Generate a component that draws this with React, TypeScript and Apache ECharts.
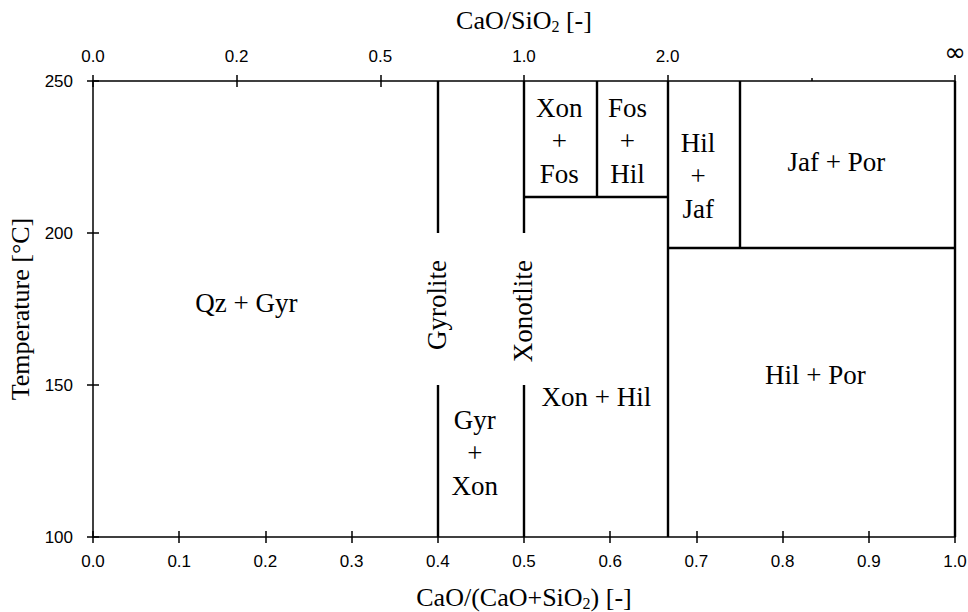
import { useEffect, useRef } from "react";
import * as echarts from "echarts";

// Top axis: CaO/SiO2 molar ratio, placed at its CaO/(CaO+SiO2) fraction
const ratioTicks = [0, 0.2, 0.5, 1, 2, 5, Infinity];
const ratioLabels = ["0.0", "0.2", "0.5", "1.0", "2.0", "", "∞"];
const toFraction = (r: number) => (r === Infinity ? 1 : r / (1 + r));

// Bottom axis ticks (CaO/(CaO+SiO2)) and temperature range
const fractionMin = 0;
const fractionMax = 1;
const fractionStep = 0.1;
const tempMin = 100;
const tempMax = 250;
const tempStep = 50;

// Phase boundaries: vertical segments
const vBoundX = [0.4, 0.4, 0.5, 0.5, 0.584, 0.667, 0.75, 1.0];
const vBoundTop = [250, 150, 250, 150, 250, 250, 250, 250];
const vBoundBottom = [200, 100, 200, 100, 212, 100, 195, 100];

// Phase boundaries: horizontal segments
const hBoundY = [212, 195];
const hBoundFrom = [0.5, 0.667];
const hBoundTo = [0.667, 1.0];

// Phase field labels
const phaseNames = [
  "Qz + Gyr",
  "Gyrolite",
  "Xonotlite",
  "Gyr\n+\nXon",
  "Xon + Hil",
  "Xon\n+\nFos",
  "Fos\n+\nHil",
  "Hil\n+\nJaf",
  "Jaf + Por",
  "Hil + Por",
];
const phaseX = [0.178, 0.399, 0.499, 0.443, 0.584, 0.541, 0.62, 0.702, 0.8625, 0.838];
const phaseY = [177, 176.3, 174.3, 127.5, 146.2, 230.4, 230.4, 218.9, 223.4, 153.3];
const phaseRotate = [0, 90, 90, 0, 0, 0, 0, 0, 0, 0];

const SERIF = '"Liberation Serif", "Times New Roman", "DejaVu Serif", serif';
const SANS = '"Liberation Sans", Arial, Helvetica, sans-serif';
const INK = "#000";

const topLabelValues = ratioTicks.filter((_, i) => ratioLabels[i] !== "").map(toFraction);
const topMinorValues = ratioTicks.filter((_, i) => ratioLabels[i] === "").map(toFraction);

const subRich = {
  sub: {
    fontFamily: SERIF,
    fontSize: 16,
    lineHeight: 8,
    verticalAlign: "bottom",
    color: INK,
  },
};

export default function App() {
  const ref = useRef<HTMLDivElement>(null);

  useEffect(() => {
    if (!ref.current) return;
    const chart = echarts.init(ref.current, null, { renderer: "svg" });

    const lineSegments = [
      ...vBoundX.map((x, i) => ({
        coords: [
          [x, vBoundTop[i]],
          [x, vBoundBottom[i]],
        ],
      })),
      ...hBoundY.map((y, i) => ({
        coords: [
          [hBoundFrom[i], y],
          [hBoundTo[i], y],
        ],
      })),
    ];

    const axisLine = { show: true, lineStyle: { color: INK, width: 1.5 } };
    const tickStyle = { color: INK, width: 1.5 };

    const topFormatter = (v: number) => {
      const idx = ratioTicks.findIndex((r) => Math.abs(toFraction(r) - v) < 1e-6);
      const label = idx >= 0 ? ratioLabels[idx] : "";
      return label === "∞" ? "{inf|∞}" : label;
    };

    chart.setOption({
      animation: false,
      backgroundColor: "#fff",
      grid: {
        left: 93,
        right: 13,
        top: 81,
        bottom: 75,
        containLabel: false,
        outerBoundsMode: "none",
      },
      xAxis: [
        {
          type: "value",
          position: "bottom",
          min: fractionMin,
          max: fractionMax,
          interval: fractionStep,
          axisLine,
          axisTick: { show: true, inside: false, length: 6, lineStyle: tickStyle },
          axisLabel: {
            margin: 16,
            fontFamily: SANS,
            fontSize: 17,
            color: INK,
            formatter: (v: number) => v.toFixed(1),
          },
          splitLine: { show: false },
          name: "CaO/(CaO+SiO{sub|2}) [-]",
          nameLocation: "middle",
          nameGap: 46,
          nameTextStyle: {
            fontFamily: SERIF,
            fontSize: 26,
            lineHeight: 28,
            color: INK,
            rich: subRich,
          },
        },
        {
          type: "value",
          position: "bottom",
          min: fractionMin,
          max: fractionMax,
          interval: fractionStep,
          axisLine: { show: false },
          axisTick: { show: true, inside: true, length: 6, lineStyle: tickStyle },
          axisLabel: { show: false },
          splitLine: { show: false },
        },
        {
          type: "value",
          position: "top",
          min: fractionMin,
          max: fractionMax,
          axisLine,
          axisTick: {
            show: true,
            inside: false,
            length: 6,
            lineStyle: tickStyle,
            customValues: topLabelValues,
          },
          axisLabel: {
            margin: 16,
            fontFamily: SANS,
            fontSize: 17,
            color: INK,
            customValues: topLabelValues,
            formatter: topFormatter,
            rich: {
              inf: { fontFamily: '"DejaVu Sans", sans-serif', fontSize: 26, color: INK },
            },
          },
          splitLine: { show: false },
          name: "CaO/SiO{sub|2} [-]",
          nameLocation: "middle",
          nameGap: 38,
          nameTextStyle: {
            fontFamily: SERIF,
            fontSize: 26,
            lineHeight: 28,
            color: INK,
            rich: subRich,
          },
        },
        {
          type: "value",
          position: "top",
          min: fractionMin,
          max: fractionMax,
          axisLine: { show: false },
          axisTick: {
            show: true,
            inside: true,
            length: 6,
            lineStyle: tickStyle,
            customValues: topLabelValues,
          },
          axisLabel: { show: false },
          splitLine: { show: false },
        },
        {
          type: "value",
          position: "top",
          min: fractionMin,
          max: fractionMax,
          axisLine: { show: false },
          axisTick: {
            show: true,
            inside: false,
            length: 3,
            lineStyle: tickStyle,
            customValues: topMinorValues,
          },
          axisLabel: { show: false },
          splitLine: { show: false },
        },
      ],
      yAxis: [
        {
          type: "value",
          position: "left",
          min: tempMin,
          max: tempMax,
          interval: tempStep,
          axisLine,
          axisTick: { show: true, inside: false, length: 6, lineStyle: tickStyle },
          axisLabel: { margin: 20, fontFamily: SANS, fontSize: 17, color: INK },
          splitLine: { show: false },
          name: "Temperature [°C]",
          nameLocation: "middle",
          nameGap: 57,
          nameTextStyle: { fontFamily: SERIF, fontSize: 26, color: INK },
        },
        {
          type: "value",
          position: "left",
          min: tempMin,
          max: tempMax,
          interval: tempStep,
          axisLine: { show: false },
          axisTick: { show: true, inside: true, length: 6, lineStyle: tickStyle },
          axisLabel: { show: false },
          splitLine: { show: false },
        },
      ],
      series: [
        {
          type: "lines",
          coordinateSystem: "cartesian2d",
          xAxisIndex: 0,
          yAxisIndex: 0,
          silent: true,
          lineStyle: { color: INK, width: 2.4, opacity: 1 },
          data: lineSegments,
        },
        {
          type: "scatter",
          xAxisIndex: 0,
          yAxisIndex: 0,
          silent: true,
          symbolSize: 1,
          itemStyle: { color: "rgba(0,0,0,0)", opacity: 1 },
          label: {
            show: true,
            position: "inside",
            fontFamily: SERIF,
            fontSize: 27,
            lineHeight: 33,
            color: INK,
            opacity: 1,
            textBorderWidth: 0,
            align: "center",
            verticalAlign: "middle",
          },
          data: phaseNames.map((name, i) => ({
            value: [phaseX[i], phaseY[i]],
            label: { formatter: name, rotate: phaseRotate[i] },
          })),
        },
      ],
    });

    return () => chart.dispose();
  }, []);

  return (
    <div
      ref={ref}
      style={{ position: "fixed", left: 0, top: 0, width: 968, height: 612, background: "#fff" }}
    />
  );
}
